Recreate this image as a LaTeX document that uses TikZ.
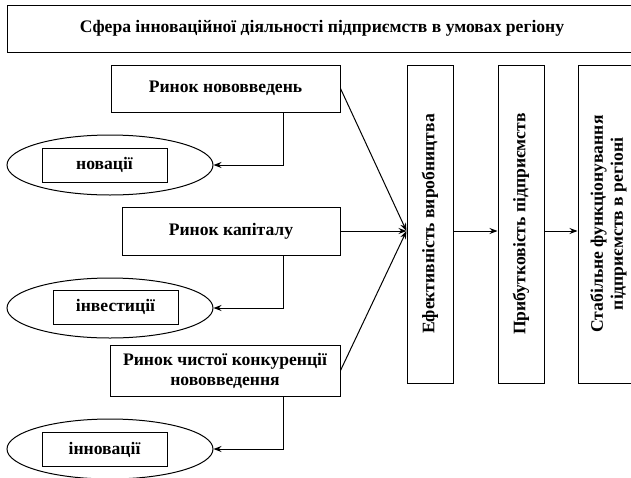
\documentclass[tikz,border=0pt]{standalone}
\usepackage{fontspec}
\setmainfont{Liberation Serif}
\usetikzlibrary{shapes.geometric,arrows.meta,calc}
\begin{document}
\begin{tikzpicture}[x=1pt,y=-1pt,
  txt/.style={font=\bfseries\fontsize{17.6}{20}\selectfont},
  box/.style={draw,line width=1pt,rectangle,inner sep=2pt,txt,align=center},
  oval/.style={draw,line width=1pt,ellipse,minimum width=206pt,minimum height=60pt},
  vbox/.style={box,rotate=90,minimum width=318pt},
  arr/.style={line width=1pt,-{Stealth[length=8pt,width=6pt]}}]
\clip (0,0) rectangle (631,477);
\fill[white] (0,0) rectangle (631,477);
\node[box,minimum width=630pt,minimum height=47pt] (title) at (322,28.5) {Сфера інноваційної діяльності підприємств в умовах регіону};
\node[box,minimum width=229pt,minimum height=47pt] (r1) at (225.5,88.5) {Ринок нововведень};
\node[box,minimum width=218pt,minimum height=48pt] (r2) at (231,231) {Ринок капіталу};
\node[box,minimum width=230pt,minimum height=51pt] (r3) at (225,370.5) {Ринок чистої конкуренції\\нововведення};
\node[oval] (e1) at (110,165) {};
\node[oval] (e2) at (110,308) {};
\node[oval] (e3) at (110,449) {};
\node[box,minimum width=125pt,minimum height=34pt] (n1) at (104.5,165) {новації};
\node[box,minimum width=125pt,minimum height=34pt] (n2) at (115.5,307) {інвестиції};
\node[box,minimum width=125pt,minimum height=34pt] (n3) at (104.5,449.5) {інновації};
\node[vbox,minimum height=46pt] (v1) at (430,224) {Ефективність виробництва};
\node[vbox,minimum height=46pt] (v2) at (521,224) {Прибутковість підприємств};
\node[vbox,minimum height=61pt] (v3) at (608.5,224) {Стабільне функціонування\\підприємств в регіоні};
\coordinate (c) at (283,0);
\coordinate (t) at (v1.north |- r2.east);
\draw[arr] (r1.east) -- (t);
\draw[arr] (r2.east) -- (t);
\draw[arr] (r3.east) -- (t);
\draw[arr] (r1.south -| c) |- (e1.east);
\draw[arr] (r2.south -| c) |- (e2.east);
\draw[arr] (r3.south -| c) |- (e3.east);
\draw[arr] (v1.south |- t) -- (v2.north |- t);
\draw[arr] (v2.south |- t) -- (v3.north |- t);
\end{tikzpicture}
\end{document}
